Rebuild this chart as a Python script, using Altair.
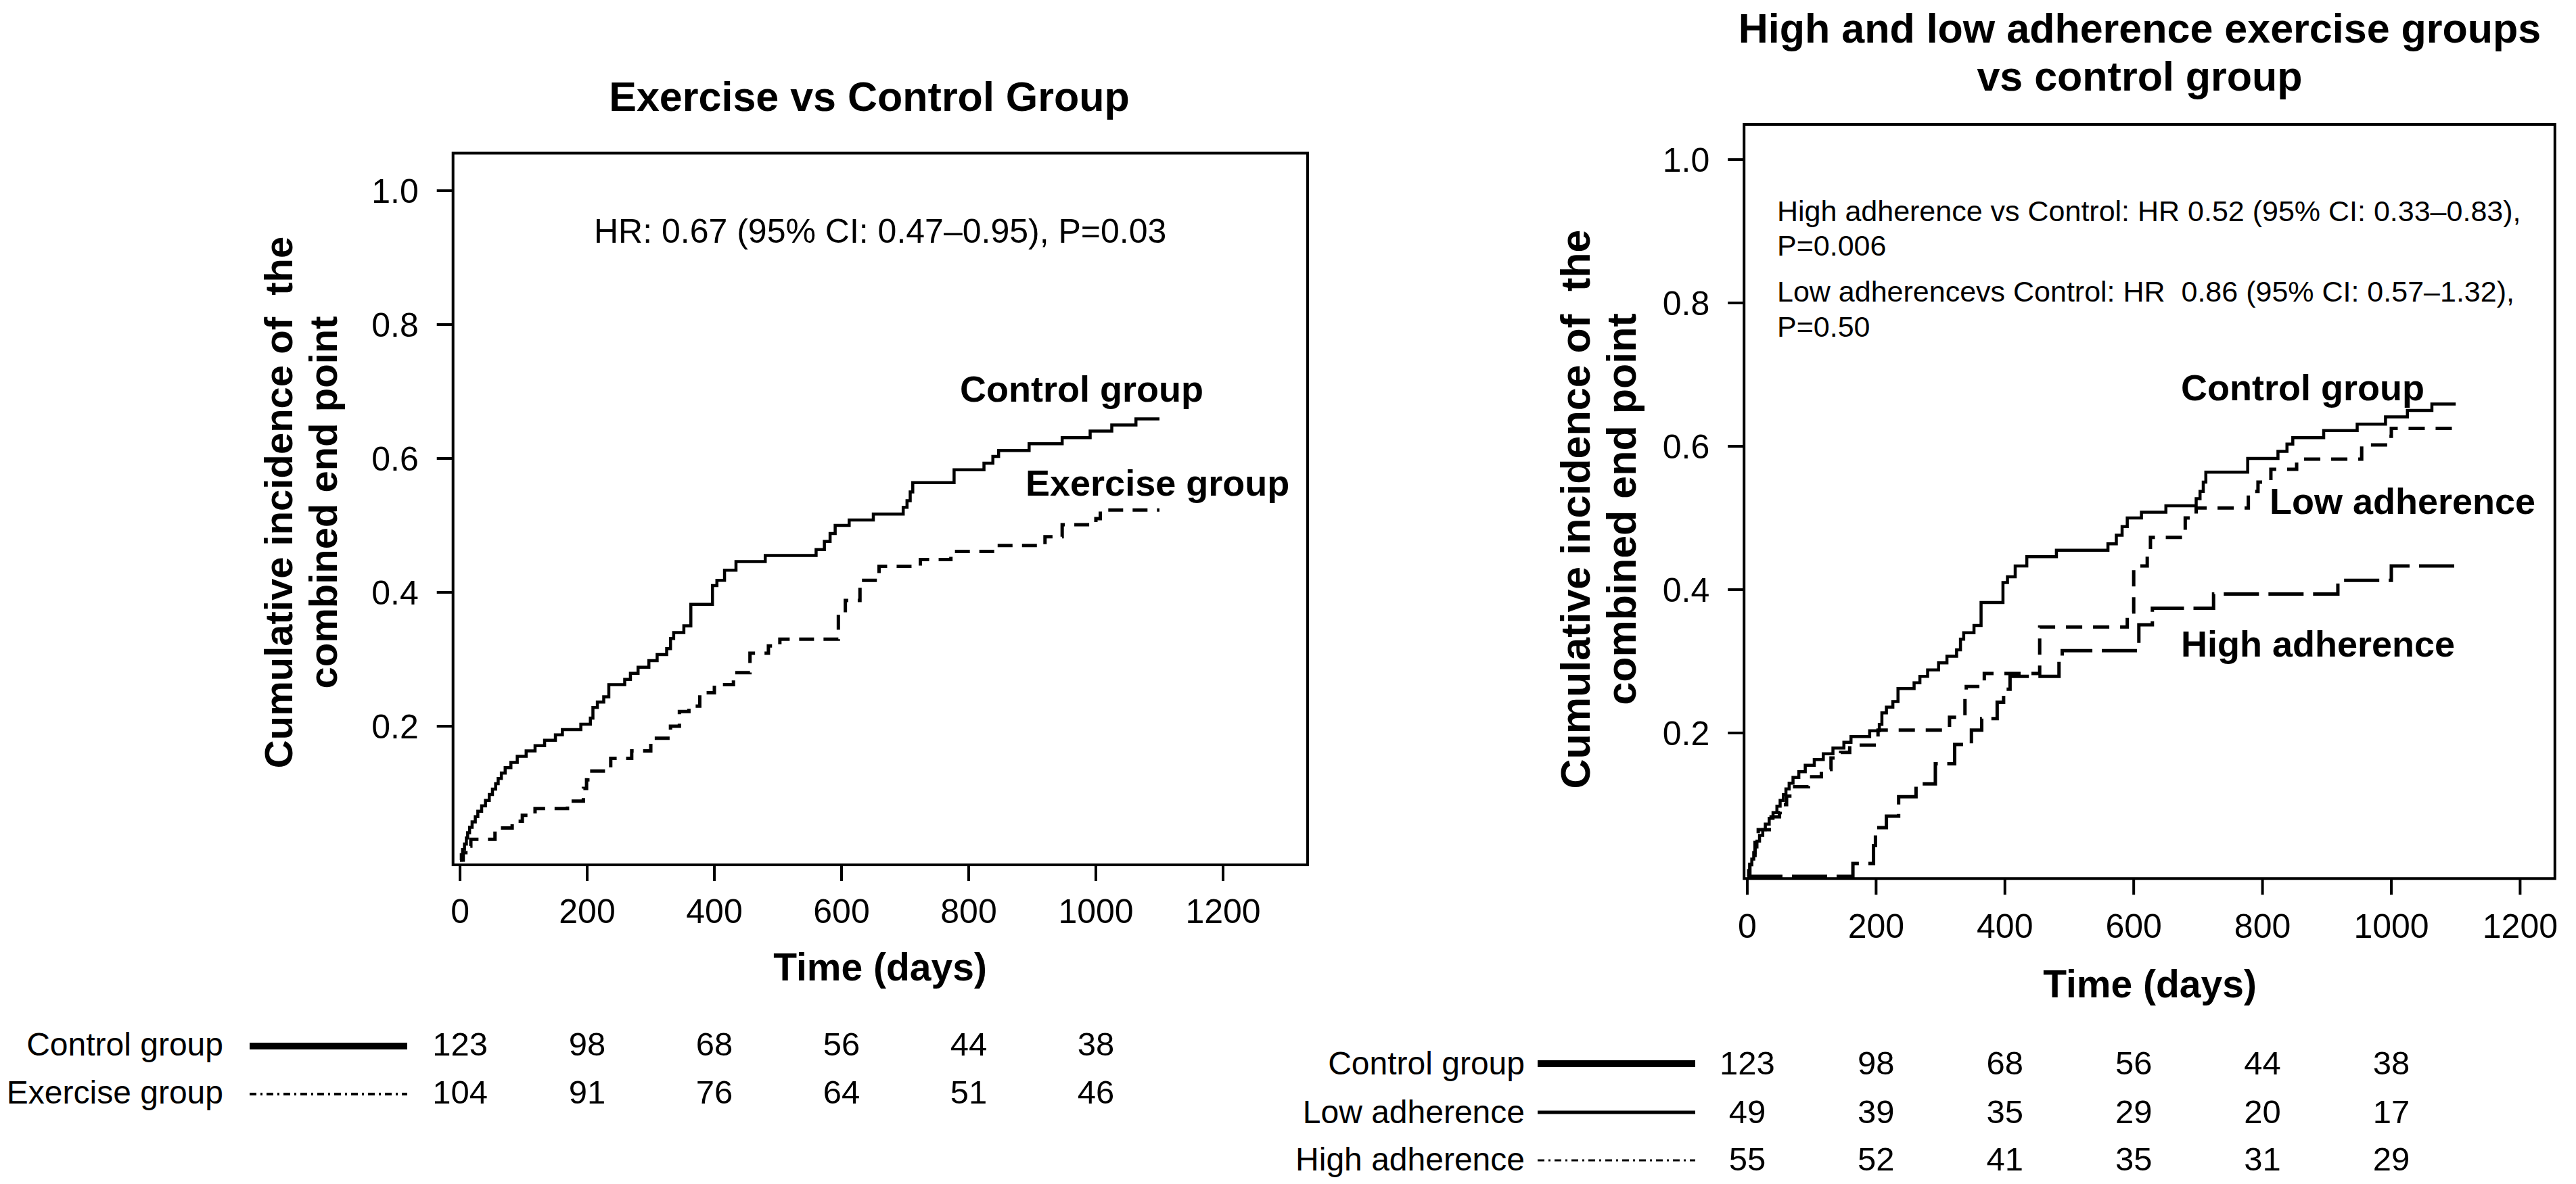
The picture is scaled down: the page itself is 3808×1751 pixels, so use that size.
import altair as alt
import pandas as pd

FONT = "Liberation Sans"

# ---------------- data ----------------
control_days = [0, 2, 4, 7, 10, 12, 15, 19, 24, 28, 34, 40, 46, 51, 56, 60, 65, 71, 80, 90,
                104, 118, 133, 150, 161, 190, 205, 209, 216, 226, 234, 259, 268, 280, 297, 310,
                325, 331, 336, 352, 363, 397, 404, 416, 434, 480, 560, 573, 582, 590, 612, 650,
                697, 703, 708, 712, 777, 824, 838, 847, 895, 947, 991, 1025, 1063, 1100]
control_inc = [0, 0.008, 0.016, 0.024, 0.033, 0.041, 0.049, 0.057, 0.065, 0.073, 0.081, 0.089,
               0.098, 0.106, 0.114, 0.122, 0.130, 0.138, 0.146, 0.155, 0.163, 0.171, 0.179,
               0.187, 0.195, 0.203, 0.212, 0.228, 0.236, 0.244, 0.262, 0.270, 0.279, 0.288,
               0.298, 0.307, 0.316, 0.331, 0.340, 0.350, 0.382, 0.410, 0.418, 0.433, 0.446,
               0.455, 0.464, 0.476, 0.488, 0.500, 0.508, 0.517, 0.527, 0.537, 0.550, 0.564,
               0.583, 0.593, 0.603, 0.612, 0.622, 0.631, 0.641, 0.650, 0.659, 0.659]

exercise_days = [0, 5, 12, 17, 55, 82, 98, 118, 169, 194, 199, 201, 237, 270, 300, 331, 345, 360,
                 377, 400, 430, 456, 485, 503, 595, 606, 629, 659, 724, 772, 841, 920, 947, 1000,
                 1007, 1100]
exercise_inc = [0, 0.011, 0.021, 0.031, 0.048, 0.058, 0.067, 0.077, 0.088, 0.107, 0.120, 0.133,
                0.152, 0.163, 0.182, 0.200, 0.222, 0.230, 0.250, 0.262, 0.280, 0.309, 0.320,
                0.330, 0.367, 0.388, 0.418, 0.439, 0.449, 0.461, 0.470, 0.483, 0.501, 0.510,
                0.523, 0.523]

low_days = [0, 4, 12, 17, 37, 50, 51, 61, 66, 95, 115, 130, 145, 159, 203, 314, 338, 340, 368,
            454, 590, 600, 621, 626, 680, 697, 778, 793, 813, 853, 954, 995, 1000, 1100]
low_inc = [0, 0.026, 0.050, 0.065, 0.083, 0.089, 0.100, 0.112, 0.125, 0.139, 0.149, 0.165,
           0.173, 0.183, 0.204, 0.222, 0.252, 0.265, 0.283, 0.348, 0.369, 0.433, 0.455, 0.473,
           0.500, 0.514, 0.537, 0.550, 0.568, 0.582, 0.602, 0.614, 0.625, 0.625]

high_days = [0, 164, 196, 199, 216, 235, 262, 292, 322, 348, 364, 388, 398, 408, 484, 489, 608,
             629, 724, 917, 1000, 1100]
high_inc = [0, 0.018, 0.043, 0.068, 0.084, 0.111, 0.129, 0.157, 0.184, 0.204, 0.220, 0.243,
            0.261, 0.279, 0.301, 0.315, 0.351, 0.374, 0.394, 0.413, 0.433, 0.433]

x_ticks = [0, 200, 400, 600, 800, 1000, 1200]
y_ticks = [0.2, 0.4, 0.6, 0.8, 1.0]

risk_times = [0, 200, 400, 600, 800, 1000]
risk_control = [123, 98, 68, 56, 44, 38]
risk_exercise = [104, 91, 76, 64, 51, 46]
risk_low = [49, 39, 35, 29, 20, 17]
risk_high = [55, 52, 41, 35, 31, 29]

left_title = "Exercise vs Control Group"
right_title = ["High and low adherence exercise groups", "vs control group"]
y_title = ["Cumulative incidence of\u00a0 the", "combined end point"]
x_title = "Time (days)"
left_note = "HR: 0.67 (95% CI: 0.47\u20130.95), P=0.03"
right_notes = ["High adherence vs Control: HR 0.52 (95% CI: 0.33\u20130.83),", "P=0.006",
               "Low adherencevs Control: HR \u00a00.86 (95% CI: 0.57\u20131.32),", "P=0.50"]

# ---------------- layout ----------------
W, H = 3792, 1735
one = pd.DataFrame({"k": [0]})

XL_DOM, XL_RNG = [-11, 1333], [661.7, 1925.0]
YL_DOM, YL_RNG = [-0.007, 1.056], [1270.9, 218.6]
XR_DOM, XR_RNG = [-5, 1254], [2570.2, 3768.8]
YR_DOM, YR_RNG = [-0.003, 1.049], [1291.2, 176.1]

xl = alt.Scale(domain=XL_DOM, range=XL_RNG, nice=False, zero=False)
yl = alt.Scale(domain=YL_DOM, range=YL_RNG, nice=False, zero=False)
xr = alt.Scale(domain=XR_DOM, range=XR_RNG, nice=False, zero=False)
yr = alt.Scale(domain=YR_DOM, range=YR_RNG, nice=False, zero=False)

TICK_PX = 24


def per_px(dom, rng):
    return (dom[1] - dom[0]) / abs(rng[1] - rng[0])


def curve(days, inc, xs, ys, dash=None, width=4.5):
    df = pd.DataFrame({"t": days, "c": inc})
    kw = dict(interpolate="step-after", color="black", strokeWidth=width, strokeCap="butt")
    if dash:
        kw["strokeDash"] = dash
    return alt.Chart(df).mark_line(**kw).encode(
        x=alt.X("t:Q", scale=xs, axis=None), y=alt.Y("c:Q", scale=ys, axis=None))


def box(xs, ys, xd, yd):
    return alt.Chart(one).mark_rect(filled=False, stroke="black", strokeWidth=4, fillOpacity=0).encode(
        x=alt.XDatum(xd[0], type="quantitative", scale=xs, axis=None),
        x2=alt.X2Datum(xd[1]),
        y=alt.YDatum(yd[0], type="quantitative", scale=ys, axis=None),
        y2=alt.Y2Datum(yd[1]))


def x_axis(xs, ys, xd, xr_, yd, yr_, label_dy):
    df = pd.DataFrame({"t": x_ticks})
    ybot = yd[0]
    ylen = TICK_PX * per_px(yd, yr_)
    ticks = alt.Chart(df).mark_rule(color="black", strokeWidth=4, strokeCap="butt").encode(
        x=alt.X("t:Q", scale=xs, axis=None),
        y=alt.YDatum(ybot, type="quantitative", scale=ys, axis=None),
        y2=alt.Y2Datum(ybot - ylen))
    labels = alt.Chart(df).mark_text(font=FONT, fontSize=50, align="center", baseline="alphabetic",
                                     color="black", dy=label_dy).encode(
        x=alt.X("t:Q", scale=xs, axis=None),
        y=alt.YDatum(ybot, type="quantitative", scale=ys, axis=None),
        text=alt.Text("t:Q", format="d"))
    return [ticks, labels]


def y_axis(xs, ys, xd, xr_, label_dx):
    df = pd.DataFrame({"v": y_ticks})
    xleft = xd[0]
    xlen = TICK_PX * per_px(xd, xr_)
    ticks = alt.Chart(df).mark_rule(color="black", strokeWidth=4, strokeCap="butt").encode(
        y=alt.Y("v:Q", scale=ys, axis=None),
        x=alt.XDatum(xleft, type="quantitative", scale=xs, axis=None),
        x2=alt.X2Datum(xleft - xlen))
    labels = alt.Chart(df).mark_text(font=FONT, fontSize=50, align="right", baseline="alphabetic",
                                     color="black", dx=label_dx, dy=18).encode(
        y=alt.Y("v:Q", scale=ys, axis=None),
        x=alt.XDatum(xleft, type="quantitative", scale=xs, axis=None),
        text=alt.Text("v:Q", format=".1f"))
    return [ticks, labels]


def label(txt, x, y, size, bold=False, align="left", angle=None):
    kw = dict(font=FONT, fontSize=size, fontWeight="bold" if bold else "normal", align=align,
              baseline="alphabetic", color="black")
    if angle is not None:
        kw["angle"] = angle
    return alt.Chart(one).mark_text(**kw).encode(x=alt.value(x), y=alt.value(y), text=alt.value(txt))


def risk_row(counts, xs, y):
    df = pd.DataFrame({"t": risk_times, "n": counts})
    return alt.Chart(df).mark_text(font=FONT, fontSize=49, align="center", baseline="alphabetic",
                                   color="black").encode(
        x=alt.X("t:Q", scale=xs, axis=None), y=alt.value(y), text=alt.Text("n:Q", format="d"))


def sample(x1, x2, y, width, dash=None):
    kw = dict(color="black", strokeWidth=width, strokeCap="butt")
    if dash:
        kw["strokeDash"] = dash
    return alt.Chart(one).mark_rule(**kw).encode(x=alt.value(x1), x2=alt.value(x2), y=alt.value(y))


# ---------------- left panel ----------------
left = alt.layer(
    curve(control_days, control_inc, xl, yl),
    curve(exercise_days, exercise_inc, xl, yl, dash=[22, 14], width=5),
    box(xl, yl, XL_DOM, YL_DOM),
    *x_axis(xl, yl, XL_DOM, XL_RNG, YL_DOM, YL_RNG, 86),
    *y_axis(xl, yl, XL_DOM, XL_RNG, -51),
    risk_row(risk_control, xl, 1553),
    risk_row(risk_exercise, xl, 1624),
)

# ---------------- right panel ----------------
right = alt.layer(
    curve(control_days, control_inc, xr, yr),
    curve(low_days, low_inc, xr, yr, dash=[24, 16], width=5),
    curve(high_days, high_inc, xr, yr, dash=[52, 14], width=5),
    box(xr, yr, XR_DOM, YR_DOM),
    *x_axis(xr, yr, XR_DOM, XR_RNG, YR_DOM, YR_RNG, 88),
    *y_axis(xr, yr, XR_DOM, XR_RNG, -51),
    risk_row(risk_control, xr, 1581),
    risk_row(risk_low, xr, 1653),
    risk_row(risk_high, xr, 1723),
)

texts = alt.layer(
    # left panel text
    label(left_title, 1277, 156, 61, bold=True, align="center"),
    label(y_title[0], 424, 735, 58, bold=True, align="center", angle=270),
    label(y_title[1], 490, 735, 58, bold=True, align="center", angle=270),
    label(x_title, 1293, 1442, 57, bold=True, align="center"),
    label(left_note, 870, 351, 50),
    label("Control group", 1411, 586, 54, bold=True),
    label("Exercise group", 1508, 725, 54, bold=True),
    label("Control group", 322, 1553, 48, align="right"),
    label("Exercise group", 322, 1624, 48, align="right"),
    sample(361, 594, 1539, 10),
    sample(361, 594, 1610, 4, dash=[10, 6, 3, 6]),
    # right panel text
    label(right_title[0], 3155, 55, 61, bold=True, align="center"),
    label(right_title[1], 3155, 126, 61, bold=True, align="center"),
    label(y_title[0], 2342, 745, 61, bold=True, align="center", angle=270),
    label(y_title[1], 2410, 745, 61, bold=True, align="center", angle=270),
    label(x_title, 3170, 1467, 57, bold=True, align="center"),
    label(right_notes[0], 2619, 319, 43),
    label(right_notes[1], 2619, 370, 43),
    label(right_notes[2], 2619, 438, 43),
    label(right_notes[3], 2619, 490, 43),
    label("Control group", 3216, 584, 54, bold=True),
    label("Low adherence", 3347, 752, 54, bold=True),
    label("High adherence", 3216, 963, 54, bold=True),
    label("Control group", 2246, 1581, 48, align="right"),
    label("Low adherence", 2246, 1653, 48, align="right"),
    label("High adherence", 2246, 1723, 48, align="right"),
    sample(2265, 2498, 1565, 10),
    sample(2265, 2498, 1637, 5),
    sample(2265, 2498, 1708, 3, dash=[10, 6, 3, 6]),
)

chart = alt.layer(left, right, texts).resolve_scale(
    x="independent", y="independent"
).properties(
    width=W, height=H, padding=0, autosize=alt.AutoSizeParams(type="none"),
    background="white",
).configure_view(strokeWidth=0)

chart.save("out.html", embed_options={"renderer": "svg", "actions": False})
